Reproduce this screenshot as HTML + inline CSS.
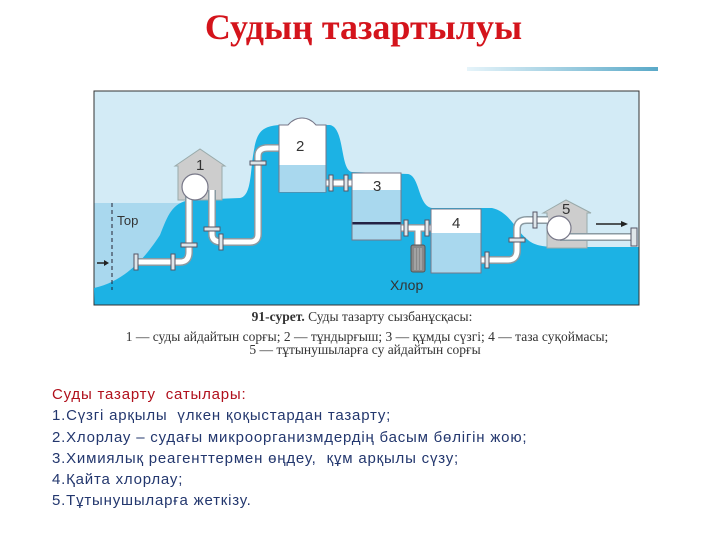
<!DOCTYPE html>
<html><head><meta charset="utf-8"><style>
html,body{margin:0;padding:0;background:#fff;}
body{width:720px;height:540px;position:relative;overflow:hidden;}
.t{position:absolute;white-space:nowrap;}
</style></head><body>
<div class="t" style="left:0;width:727px;top:6px;text-align:center;font:bold 36px 'Liberation Serif',serif;color:#d4141c;">Судың тазартылуы</div>
<svg width="720" height="540" style="position:absolute;left:0;top:0" xmlns="http://www.w3.org/2000/svg">
<defs><linearGradient id="g" x1="0" x2="1"><stop offset="0" stop-color="#e6f4fa"/><stop offset="1" stop-color="#5aa9c8"/></linearGradient></defs>
<rect x="467" y="67" width="191" height="4" fill="url(#g)"/>
<rect x="94" y="91" width="545" height="214" fill="#d3ebf6" stroke="#333" stroke-width="1"/>
<rect x="94.5" y="203" width="90" height="101.5" fill="#a9d8ee"/>
<path d="M94,288 C130,280 150,250 160,235 C168,215 172,203 190,200 L240,198 C252,196 250,170 254,150 C257,132 262,126 280,125 L330,125 C345,128 340,170 352,172 L408,174 C420,176 418,206 432,208 L492,208 C510,212 515,230 528,240 C535,246 545,247 560,247 L638.5,247 L638.5,304.5 L94.5,304.5 Z" fill="#1cb2e4"/>
<g stroke="#9aa" stroke-width="1" fill="#cdcdcd">
<polygon points="175,166 200,149 225,166 222,166 222,200 178,200 178,166"/>
<polygon points="543,213 566,200 591,213 587,213 587,248 547,248 547,213"/>
</g>
<g fill="none" stroke-linecap="butt" stroke-linejoin="round">
<g stroke="#8a9aa2" stroke-width="8">
<path d="M135,262 L180,262 Q189,262 189,252 L189,190"/>
<path d="M212,190 L212,234 Q212,242 222,242 L250,242 Q258,242 258,234 L258,156 Q258,148 268,148 L280,148"/>
<path d="M326,183 L352,183"/><path d="M401,228 L431,228"/><path d="M418,228 L418,246"/>
<path d="M481,260 L508,260 Q517,260 517,250 L517,229 Q517,220 527,220 L548,220"/>
<path d="M560,237 L637,237"/>
</g>
<g stroke="#fff" stroke-width="5">
<path d="M135,262 L180,262 Q189,262 189,252 L189,190"/>
<path d="M212,190 L212,234 Q212,242 222,242 L250,242 Q258,242 258,234 L258,156 Q258,148 268,148 L280,148"/>
<path d="M326,183 L352,183"/><path d="M401,228 L431,228"/><path d="M418,228 L418,246"/>
<path d="M481,260 L508,260 Q517,260 517,250 L517,229 Q517,220 527,220 L548,220"/>
<path d="M560,237 L637,237"/>
</g>
</g>
<g fill="#dfe6ea" stroke="#556" stroke-width="1">
<rect x="134" y="254" width="4" height="16"/><rect x="171" y="254" width="4" height="16"/>
<rect x="181" y="243" width="16" height="4"/><rect x="204" y="227" width="16" height="4"/>
<rect x="219" y="234" width="4" height="16"/><rect x="250" y="161" width="16" height="4"/>
<rect x="329" y="175" width="4" height="16"/><rect x="344" y="175" width="4" height="16"/>
<rect x="404" y="220" width="4" height="16"/><rect x="425" y="220" width="4" height="16"/>
<rect x="485" y="252" width="4" height="16"/><rect x="509" y="238" width="16" height="4"/>
<rect x="533" y="212" width="4" height="16"/><rect x="631" y="228" width="6" height="18"/>
</g>
<circle cx="195" cy="187" r="13" fill="#fff" stroke="#778" stroke-width="1.2"/>
<circle cx="559" cy="228" r="12" fill="#fff" stroke="#778" stroke-width="1.2"/>
<path d="M279,192 L279,125 L288,125 Q294,118 302,118 Q310,118 316,125 L326,125 L326,192 Z" fill="#fff" stroke="#778"/>
<rect x="279.5" y="165" width="46" height="27" fill="#a9d8ee"/>
<rect x="352" y="173" width="49" height="67" fill="#fff" stroke="#778"/>
<rect x="352.5" y="190" width="48" height="49.5" fill="#a9d8ee"/>
<rect x="352.5" y="222" width="48" height="2.5" fill="#224"/>
<rect x="431" y="209" width="50" height="64" fill="#fff" stroke="#778"/>
<rect x="431.5" y="233" width="49" height="39.5" fill="#a9d8ee"/>
<rect x="411" y="245" width="14" height="27" rx="2" fill="#888" stroke="#555"/>
<g stroke="#bbb" stroke-width="1"><path d="M415,248V270M418,248V270M421,248V270"/></g>
<path d="M112,203V290" stroke="#223" stroke-dasharray="4,3"/>
<path d="M97,263H107" stroke="#222" stroke-width="1.5"/><path d="M104,260L109,263L104,266Z" fill="#222"/>
<path d="M596,224H623" stroke="#222" stroke-width="1.5"/><path d="M621,221L628,224L621,227Z" fill="#222"/>
<g font-family="'Liberation Sans',sans-serif" fill="#333" font-size="15">
<text x="196" y="170">1</text><text x="296" y="151">2</text><text x="373" y="191">3</text><text x="452" y="228">4</text><text x="562" y="214">5</text>
<text x="117" y="225" font-size="13">Тор</text><text x="390" y="290" font-size="14">Хлор</text>
</g>
<g font-family="'Liberation Serif',serif" fill="#333" font-size="13.5" text-anchor="middle">
<text x="362" y="321"><tspan font-weight="bold">91-сурет.</tspan> Суды тазарту сызбанұсқасы:</text>
<text x="367" y="341">1 — суды айдайтын сорғы; 2 — тұндырғыш; 3 — құмды сүзгі; 4 — таза суқоймасы;</text>
<text x="365" y="354">5 — тұтынушыларға су айдайтын сорғы</text>
</g>
</svg>
<div class="t" style="left:52px;top:384px;font:15px/21.3px 'Liberation Sans',sans-serif;color:#23376e;letter-spacing:0.8px;">
<span style="color:#b0101c">Суды тазарту&nbsp; сатылары:</span><br>
1.Сүзгі арқылы&nbsp; үлкен қоқыстардан тазарту;<br>
2.Хлорлау – судағы микроорганизмдердің басым бөлігін жою;<br>
3.Химиялық реагенттермен өңдеу,&nbsp; құм арқылы сүзу;<br>
4.Қайта хлорлау;<br>
5.Тұтынушыларға жеткізу.
</div>
</body></html>
